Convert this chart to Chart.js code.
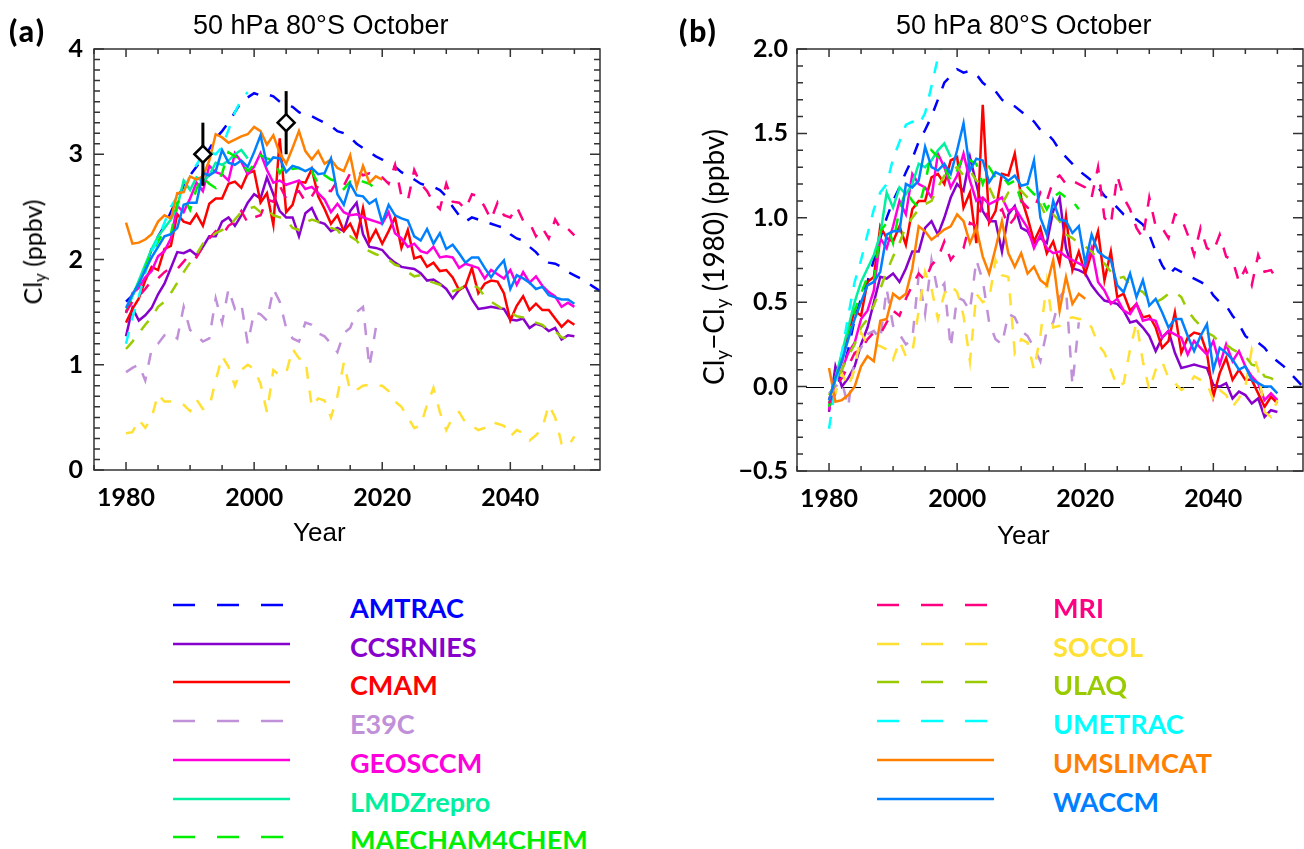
<!DOCTYPE html>
<html>
<head>
<meta charset="utf-8">
<script src="https://cdn.jsdelivr.net/npm/chart.js@4.4.1/dist/chart.umd.min.js"></script>
<style>
  html, body { margin: 0; padding: 0; background: #fff; overflow: hidden; }
  #page { position: relative; width: 1304px; height: 849px; }
  canvas { position: absolute; top: 0; }
  .txt { position: absolute; white-space: nowrap; line-height: 1; color: #000; }
  .title { font: 27px "Liberation Sans", Arial, sans-serif; }
  .panel { font: 900 30px Lato, sans-serif; letter-spacing: 2px; }
  .xlab { font: 26px "Liberation Sans", Arial, sans-serif; }
  .ylab { font: 25px Lato, sans-serif; transform: translate(-50%, -50%) rotate(-90deg); }
  .ylab sub { font-size: 0.68em; vertical-align: -0.25em; line-height: 0; }
  .ylab.big { font-size: 28px; }
  .leg { font: bold 27px Lato, sans-serif; }
  svg { position: absolute; overflow: visible; }
</style>
</head>
<body>
<div id="page">
  <canvas id="chartA" width="640" height="560" style="left:0"></canvas>
  <canvas id="chartB" width="624" height="560" style="left:680px"></canvas>

  <div class="txt panel" style="left:9px;top:12px">(a)</div>
  <div class="txt panel" style="left:679px;top:12px">(b)</div>
  <div class="txt title" style="left:193px;top:10px">50 hPa 80°S October</div>
  <div class="txt title" style="left:896px;top:10px">50 hPa 80°S October</div>
  <div class="txt xlab" style="left:293px;top:517px">Year</div>
  <div class="txt xlab" style="left:997px;top:520px">Year</div>
  <div class="txt ylab" style="left:32px;top:252px">Cl<sub>y</sub> (ppbv)</div>
  <div class="txt ylab big" style="left:713px;top:257px">Cl<sub>y</sub>−Cl<sub>y</sub> (1980) (ppbv)</div>
  <div id="legend"></div>
</div>

<script>
// models, in legend order
const names = ['AMTRAC', 'CCSRNIES', 'CMAM', 'E39C', 'GEOSCCM', 'LMDZrepro', 'MAECHAM4CHEM',
               'MRI', 'SOCOL', 'ULAQ', 'UMETRAC', 'UMSLIMCAT', 'WACCM'];
const colors = ['#0000ff', '#8800cc', '#ff0000', '#c090d8', '#ff00dd', '#00f0a0', '#00ee00',
                '#ff0080', '#ffe033', '#99cc00', '#00ffff', '#ff8000', '#0080ff'];
const dashed = [true, false, false, true, false, false, true, true, true, true, true, false, false];

// Cly in 1980 (ppbv), used to go from the anomalies back to Cly
const clyRef = [1.70, 1.42, 1.48, 0.97, 1.63, 1.60, 1.62, 1.60, 0.40, 1.20, 1.45, 2.24, 1.62];

// Cly - Cly(1980) (ppbv), one value per year starting in 1980
const firstYear = 1980;
const AMTRAC = [-0.10,-0.04,0.08,0.22,0.40,0.52,0.62,0.75,0.88,1.00,
  1.10,1.18,1.27,1.35,1.45,1.52,1.60,1.70,1.80,1.84,
  1.88,1.86,1.87,1.85,1.80,1.77,1.75,1.70,1.67,1.66,
  1.63,1.60,1.57,1.52,1.50,1.46,1.40,1.36,1.32,1.28,
  1.25,1.22,1.18,1.13,1.10,1.06,1.02,1.00,0.99,0.96,
  0.90,0.80,0.72,0.66,0.70,0.68,0.66,0.64,0.62,0.60,
  0.54,0.50,0.48,0.42,0.37,0.30,0.27,0.26,0.23,0.18,
  0.15,0.12,0.08,0.04,0.00,-0.02];
const CCSRNIES = [-0.15,0.12,0.00,0.05,0.12,0.25,0.35,0.50,0.65,0.64,
  0.67,0.62,0.70,0.80,0.80,0.94,0.98,0.90,1.00,1.12,
  1.20,1.16,1.36,1.20,1.04,0.98,0.98,0.80,1.02,1.07,
  0.94,0.92,0.85,0.88,0.85,1.04,1.12,0.82,0.70,0.69,
  0.67,0.60,0.55,0.51,0.50,0.49,0.45,0.38,0.39,0.35,
  0.30,0.21,0.29,0.33,0.20,0.11,0.12,0.13,0.12,0.11,
  0.01,0.00,0.02,-0.07,-0.03,-0.05,-0.10,-0.07,-0.18,-0.14,
  -0.15];
const CMAM = [-0.08,0.05,0.15,0.32,0.45,0.42,0.62,0.65,0.95,0.88,
  0.86,0.95,0.84,1.05,1.10,1.10,1.24,1.26,1.20,1.34,
  1.36,1.06,1.15,0.85,1.67,0.97,1.04,1.26,1.25,1.38,
  1.12,1.00,0.86,0.94,0.79,0.86,0.73,1.01,0.69,0.80,
  0.67,0.79,0.92,0.63,0.80,0.53,0.55,0.45,0.49,0.41,
  0.42,0.35,0.23,0.27,0.44,0.20,0.29,0.32,0.31,0.20,
  -0.06,0.08,0.17,0.04,0.10,0.04,0.04,-0.04,-0.12,-0.06,
  -0.10];
const E39C = [-0.04,0.00,0.03,-0.12,0.18,0.23,0.31,0.33,0.28,0.58,
  0.36,0.31,0.25,0.28,0.66,0.43,0.75,0.56,0.61,0.23,
  0.53,0.51,0.45,0.75,0.63,0.38,0.28,0.25,0.43,0.41,
  0.33,0.30,0.23,0.15,0.33,0.38,0.53,0.58,0.01,0.38];
const GEOSCCM = [-0.14,0.05,0.10,0.20,0.26,0.40,0.45,0.57,0.88,0.82,
  0.95,1.10,1.02,1.26,1.20,1.18,1.12,1.38,1.30,1.18,
  1.25,1.38,1.22,1.10,1.12,1.08,1.10,1.12,1.04,1.06,
  1.00,0.94,0.82,0.90,0.82,0.79,0.80,0.77,0.75,0.73,
  0.71,0.82,0.62,0.57,0.49,0.52,0.45,0.43,0.49,0.39,
  0.40,0.39,0.29,0.33,0.31,0.29,0.19,0.27,0.23,0.19,
  0.27,0.13,0.25,0.15,0.21,0.12,0.06,0.02,-0.08,-0.04,
  -0.08];
const LMDZrepro = [-0.10,0.05,0.20,0.35,0.50,0.62,0.70,0.78,0.90,1.15,
  1.06,1.18,1.14,1.20,1.32,1.30,1.34,1.40,1.44,1.36];
const MAECHAM4CHEM = [-0.12,0.05,0.15,0.30,0.45,0.55,0.65,0.62,0.92,0.97,
  0.85,1.05,1.16,1.10,1.06,1.20,1.40,1.36,1.30,1.22,
  1.28,1.37,1.34,1.32,1.20,1.30,1.24,1.25,1.20,1.22,
  1.10,1.18,1.14,1.12,1.05,1.12,1.15,1.12,1.10,1.05];
const MRI = [-0.10,0.00,0.05,0.12,0.20,0.22,0.28,0.32,0.31,0.38,
  0.45,0.42,0.52,0.60,0.67,0.63,0.72,0.76,0.86,0.75,
  0.80,0.82,0.97,0.95,1.10,0.98,1.02,1.05,0.95,1.00,
  1.10,1.06,1.05,1.15,1.10,1.22,1.25,1.20,1.22,1.20,
  1.18,1.12,1.30,1.00,0.96,1.25,1.12,1.05,0.94,0.88,
  1.12,0.95,0.94,0.88,1.02,1.00,0.90,0.78,0.94,0.82,
  0.80,0.90,0.77,0.75,0.62,0.70,0.60,0.78,0.68,0.69,
  0.63];
const SOCOL = [-0.05,-0.04,0.08,0.00,0.10,0.32,0.25,0.25,0.24,0.22,
  0.16,0.27,0.18,0.20,0.45,0.68,0.58,0.40,0.55,0.60,
  0.56,0.42,0.15,0.55,0.50,0.52,0.75,0.66,0.65,0.20,
  0.28,0.26,0.10,0.30,0.62,0.35,0.36,0.40,0.41,0.40,
  0.40,0.35,0.25,0.20,0.10,0.00,0.02,0.22,0.38,0.15,
  -0.02,0.10,0.15,0.05,0.02,-0.02,0.00,0.06,0.04,0.02,
  -0.08,-0.02,-0.05,-0.12,-0.07,0.00,0.22,0.10,-0.15,-0.18,
  -0.08];
const ULAQ = [-0.05,0.02,0.10,0.18,0.25,0.35,0.40,0.48,0.58,0.68,
  0.77,0.85,0.95,1.00,1.05,1.08,1.10,1.18,1.25,1.28,
  1.30,1.25,1.28,1.22,1.20,1.18,1.10,1.08,1.15,1.18,
  1.16,1.12,1.10,1.08,1.00,1.02,0.98,0.90,0.88,0.85,
  0.83,0.80,0.75,0.73,0.68,0.64,0.65,0.60,0.58,0.56,
  0.52,0.50,0.52,0.55,0.56,0.53,0.45,0.40,0.36,0.32,
  0.30,0.26,0.25,0.22,0.20,0.18,0.13,0.12,0.06,0.05,
  0.03];
const UMETRAC = [-0.25,0.00,0.20,0.42,0.62,0.75,0.90,1.05,1.15,1.20,
  1.35,1.45,1.55,1.57,1.55,1.62,1.78,1.95,2.07,2.14];
const UMSLIMCAT = [0.11,-0.09,-0.08,-0.05,0.00,0.12,0.18,0.15,0.39,0.40,
  0.55,0.52,0.55,0.70,0.95,0.92,0.87,0.90,0.93,0.95,
  1.02,0.98,0.85,0.94,0.77,0.67,0.82,0.98,0.79,0.71,
  0.79,0.67,0.71,0.63,0.60,0.75,0.45,0.65,0.49,0.55,
  0.52];
const WACCM = [-0.08,0.05,0.15,0.28,0.40,0.50,0.60,0.62,0.68,0.90,
  0.92,0.92,1.20,1.18,1.22,1.42,1.30,1.28,1.32,1.26,
  1.40,1.56,1.28,1.35,1.34,1.21,1.27,1.25,1.22,1.25,
  1.19,1.20,1.34,1.00,0.90,1.10,0.99,0.98,0.91,0.95,
  0.73,0.90,0.80,0.77,0.75,0.60,0.56,0.67,0.53,0.63,
  0.48,0.52,0.44,0.35,0.40,0.40,0.30,0.21,0.30,0.37,
  0.10,0.23,0.20,0.16,0.10,0.12,0.04,0.02,0.00,0.00,
  -0.04];
const series = [AMTRAC, CCSRNIES, CMAM, E39C, GEOSCCM, LMDZrepro, MAECHAM4CHEM,
                MRI, SOCOL, ULAQ, UMETRAC, UMSLIMCAT, WACCM];

// observed Cly with uncertainty (panel a)
const obsYear = [1992, 2005];
const obsCly = [3.0, 3.3];
const obsErr = [0.3, 0.3];

// axes
const xMin = 1975, xMax = 2054;
const xTicks = [1980, 2000, 2020, 2040];
const yTicksA = [0, 1, 2, 3, 4];
const yTicksB = [-0.5, 0, 0.5, 1.0, 1.5, 2.0];

const tickFont = { family: 'Lato', size: 25, weight: 'bold' };

// box with inward ticks, dashed zero line, error bars under the diamonds
const idlBox = {
  id: 'idlBox',
  beforeDatasetsDraw(chart, args, o) {
    if (o.zero === undefined) return;
    const { ctx, chartArea: a, scales: { y } } = chart;
    const py = Math.round(y.getPixelForValue(o.zero)) + 0.5;
    ctx.save();
    ctx.strokeStyle = '#000';
    ctx.lineWidth = 1.2;
    ctx.setLineDash([18, 19]);
    ctx.lineDashOffset = -9;
    ctx.beginPath();
    ctx.moveTo(a.left, py);
    ctx.lineTo(a.right, py);
    ctx.stroke();
    ctx.restore();
  },
  beforeDatasetDraw(chart, args) {
    const ds = chart.data.datasets[args.index];
    if (!ds.errors) return;
    const { ctx, scales: { x, y } } = chart;
    ctx.save();
    ctx.strokeStyle = '#000';
    ctx.lineWidth = 3;
    ds.data.forEach((p, k) => {
      const px = x.getPixelForValue(p.x);
      ctx.beginPath();
      ctx.moveTo(px, y.getPixelForValue(p.y - ds.errors[k]));
      ctx.lineTo(px, y.getPixelForValue(p.y + ds.errors[k]));
      ctx.stroke();
    });
    ctx.restore();
  },
  afterDraw(chart, args, o) {
    const { ctx, chartArea: a, scales: { x, y } } = chart;
    ctx.save();
    ctx.strokeStyle = '#333';
    ctx.lineWidth = 1.5;
    ctx.strokeRect(a.left, a.top, a.right - a.left, a.bottom - a.top);
    ctx.beginPath();
    for (let yr = xMin; yr <= xMax; yr += 5) {
      const px = x.getPixelForValue(yr);
      const len = xTicks.includes(yr) ? 8 : 5;
      ctx.moveTo(px, a.bottom); ctx.lineTo(px, a.bottom - len);
      ctx.moveTo(px, a.top); ctx.lineTo(px, a.top + len);
    }
    const step = Math.round(o.yMajor * 10);
    for (let k = Math.round(y.min * 10); k <= Math.round(y.max * 10); k++) {
      const py = y.getPixelForValue(k / 10);
      const len = k % step === 0 ? 10 : 6;
      ctx.moveTo(a.left, py); ctx.lineTo(a.left + len, py);
      ctx.moveTo(a.right, py); ctx.lineTo(a.right - len, py);
    }
    ctx.stroke();
    ctx.restore();
  }
};

function modelSets(absolute) {
  return names.map((name, i) => ({
    label: name,
    data: series[i].map((v, k) => ({ x: firstYear + k, y: absolute ? v + clyRef[i] : v })),
    borderColor: colors[i],
    borderWidth: 2.5,
    borderDash: dashed[i] ? [12, 12] : [],
    pointRadius: 0,
    fill: false,
    tension: 0,
    order: names.length - i + 1
  }));
}

function makeChart(id, datasets, cfg) {
  return new Chart(document.getElementById(id), {
    type: 'line',
    data: { datasets },
    plugins: [idlBox],
    options: {
      responsive: false,
      animation: false,
      events: [],
      layout: { padding: { top: cfg.top, right: cfg.right, left: 0, bottom: 0 } },
      plugins: {
        legend: { display: false },
        tooltip: { enabled: false },
        idlBox: { zero: cfg.zero, yMajor: cfg.yMajor }
      },
      scales: {
        x: {
          type: 'linear', min: xMin, max: xMax,
          grid: { display: false, drawTicks: false },
          border: { display: false },
          ticks: { font: tickFont, color: '#000', padding: 13, maxRotation: 0, autoSkip: false,
                   callback: v => String(v) },
          afterBuildTicks: s => { s.ticks = xTicks.map(v => ({ value: v })); },
          afterFit: s => { s.height = cfg.xAxisH; }
        },
        y: {
          type: 'linear', min: cfg.yMin, max: cfg.yMax,
          grid: { display: false, drawTicks: false },
          border: { display: false },
          ticks: { font: tickFont, color: '#000', padding: cfg.yPad, callback: cfg.fmt },
          afterBuildTicks: s => { s.ticks = cfg.yTicks.map(v => ({ value: v })); },
          afterFit: s => { s.width = cfg.yAxisW; }
        }
      }
    }
  });
}

const obsSet = {
  label: 'obs',
  data: obsYear.map((yr, k) => ({ x: yr, y: obsCly[k] })),
  errors: obsErr,
  showLine: false,
  pointStyle: 'rectRot',
  pointRadius: 8.5,
  pointBorderWidth: 2.5,
  pointBorderColor: '#000',
  pointBackgroundColor: '#fff',
  order: 0
};

makeChart('chartA', modelSets(true).concat([obsSet]), {
  top: 49, right: 40, xAxisH: 90, yAxisW: 94, yPad: 11,
  yMin: 0, yMax: 4, yTicks: yTicksA, yMajor: 1,
  fmt: v => String(v)
});

makeChart('chartB', modelSets(false), {
  top: 49, right: 1, xAxisH: 89, yAxisW: 117, yPad: 9,
  yMin: -0.5, yMax: 2.0, yTicks: yTicksB, yMajor: 0.5, zero: 0,
  fmt: v => v.toFixed(1).replace('-', '\u2212')
});

// legend: two columns of sample lines and coloured names
const legend = document.getElementById('legend');
names.forEach((name, i) => {
  const col = i < 7 ? 0 : 1;
  const row = col ? i - 7 : i;
  const cy = 605 + row * 38.7;
  const lineX = col ? 877 : 173;
  const textX = col ? 1053 : 350;
  const svg = document.createElementNS('http://www.w3.org/2000/svg', 'svg');
  svg.setAttribute('width', 117);
  svg.setAttribute('height', 6);
  svg.style.left = lineX + 'px';
  svg.style.top = (cy - 3) + 'px';
  const ln = document.createElementNS('http://www.w3.org/2000/svg', 'line');
  ln.setAttribute('x1', 0); ln.setAttribute('x2', 117);
  ln.setAttribute('y1', 3); ln.setAttribute('y2', 3);
  ln.setAttribute('stroke', colors[i]);
  ln.setAttribute('stroke-width', 2.6);
  if (dashed[i]) ln.setAttribute('stroke-dasharray', '22 22');
  svg.appendChild(ln);
  legend.appendChild(svg);
  const t = document.createElement('div');
  t.className = 'txt leg';
  t.style.left = textX + 'px';
  t.style.top = (cy - 14) + 'px';
  t.style.color = colors[i];
  t.textContent = name;
  legend.appendChild(t);
});
</script>
</body>
</html>
